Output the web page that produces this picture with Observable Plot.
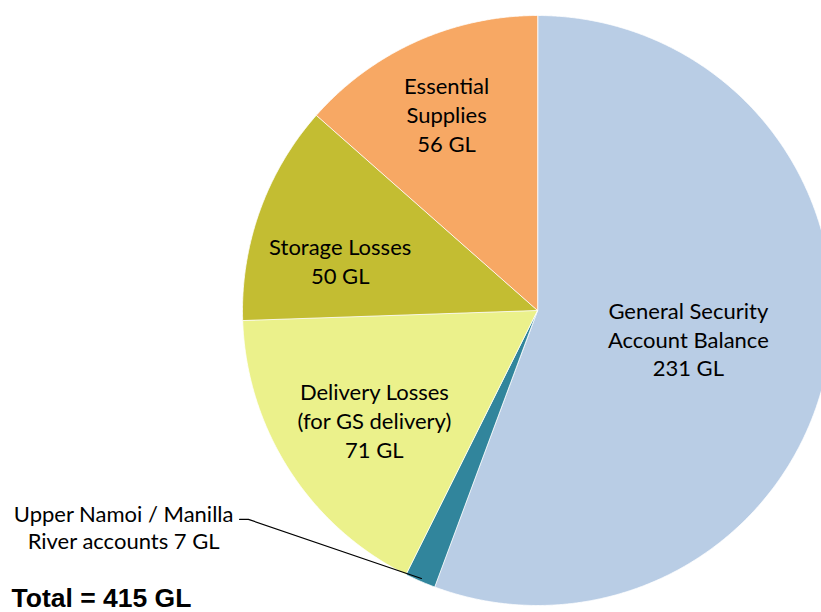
<!DOCTYPE html>
<html>
<head>
<meta charset="utf-8">
<script src="https://cdn.jsdelivr.net/npm/d3@7"></script>
<script src="https://cdn.jsdelivr.net/npm/@observablehq/plot@0.6"></script>
<style>
  html, body { margin: 0; padding: 0; background: #fff; }
  #chart svg { display: block; }
</style>
</head>
<body>
<div id="chart"></div>
<script>
// ---- data ----
const categories = [
  "General Security\nAccount Balance",
  "Upper Namoi / Manilla\nRiver accounts",
  "Delivery Losses\n(for GS delivery)",
  "Storage Losses",
  "Essential\nSupplies"
];
const values = [231, 7, 71, 50, 56];
const unit = "GL";
const totalLabel = "Total";

// ---- style / layout ----
const colors = ["#B9CDE5", "#31859C", "#EBF18B", "#C3BD32", "#F7A864"];
const W = 821, H = 612;
const CX = 537, CY = 310, R = 295;          // pie centre & radius in px
const labelFont = "Lato, 'Noto Sans', sans-serif";
const labelSize = 22;
// inside label placement: fraction of radius, angle shift (deg)
const labelPlace = [
  {r: 0.52, da: 0.3, inside: true},
  {inside: false},
  {r: 0.665, da: -1.0, inside: true},
  {r: 0.69, da: -5.5, inside: true},
  {r: 0.735, da: -0.5, inside: true}
];
// callout for the small slice (units of radius, relative to centre)
const callout = {elbowX: -0.980, elbowY: -0.708, kneeX: -1.010, textX: -1.403, textY: -0.734, tipR: 0.99};

// ---- geometry from the data ----
const arcs = d3.pie().sort(null).value(d => d)(values);
const polar = (a, r) => [r * Math.sin(a), r * Math.cos(a)];

const slicePts = [];
arcs.forEach((a, i) => {
  slicePts.push({k: categories[i], x: 0, y: 0});
  const n = Math.max(2, Math.ceil((a.endAngle - a.startAngle) / (Math.PI / 720)));
  for (let j = 0; j <= n; j++) {
    const t = a.startAngle + (a.endAngle - a.startAngle) * j / n;
    const [x, y] = polar(t, 1);
    slicePts.push({k: categories[i], x, y});
  }
});

const insideLabels = [];
let outside = null;
arcs.forEach((a, i) => {
  const mid = (a.startAngle + a.endAngle) / 2;
  const p = labelPlace[i];
  if (p.inside) {
    const [x, y] = polar(mid + p.da * Math.PI / 180, p.r);
    insideLabels.push({x, y, text: `${categories[i]}\n${values[i]} ${unit}`});
  } else {
    const [tx, ty] = polar(mid, callout.tipR);
    outside = {
      text: `${categories[i]} ${values[i]} ${unit}`,
      line: [
        {x: callout.kneeX, y: callout.elbowY},
        {x: callout.elbowX, y: callout.elbowY},
        {x: tx, y: ty}
      ]
    };
  }
});

const xDomain = [-CX / R, (W - CX) / R];
const yDomain = [-(H - CY) / R, CY / R];

const chart = Plot.plot({
  width: W,
  height: H,
  margin: 0,
  x: {domain: xDomain, axis: null},
  y: {domain: yDomain, axis: null},
  color: {domain: categories, range: colors},
  marks: [
    Plot.line(slicePts, {x: "x", y: "y", z: "k", fill: "k", stroke: "#ffffff", strokeWidth: 0.8, curve: "linear-closed"}),
    Plot.line(outside.line, {x: "x", y: "y", stroke: "#000", strokeWidth: 1.2}),
    Plot.text(insideLabels, {x: "x", y: "y", text: "text", fontFamily: labelFont, fontSize: labelSize, lineHeight: 1.31, fill: "#000", textAnchor: "middle", lineAnchor: "middle"}),
    Plot.text([outside], {x: () => callout.textX, y: () => callout.textY, text: "text", fontFamily: labelFont, fontSize: labelSize, lineHeight: 1.23, fill: "#000", textAnchor: "middle", lineAnchor: "middle"}),
    Plot.text([`${totalLabel} = ${d3.sum(values)} ${unit}`], {frameAnchor: "bottom-left", text: d => d, dx: 11, dy: -6, fontFamily: "'Liberation Sans', Arial, sans-serif", fontWeight: "bold", fontSize: 26.5, fill: "#000", textAnchor: "start", lineAnchor: "bottom"})
  ]
});
document.getElementById("chart").append(chart);
</script>
</body>
</html>
